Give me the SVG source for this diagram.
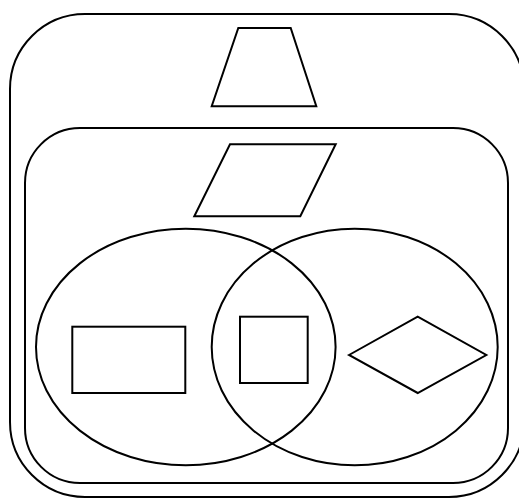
<svg xmlns="http://www.w3.org/2000/svg" width="519" height="498" viewBox="0 0 519 498">
<style>
.s{fill:#fff;stroke:#000;stroke-width:2;}
.n{fill:none;stroke:#000;stroke-width:2;}
</style>
<rect width="519" height="498" fill="#fff"/>
<g id="outer"><rect class="s" x="10" y="14" width="514" height="483" rx="75" ry="75"/></g>
<g id="trapezoid"><polygon class="s" points="238.3,28 290.7,28 316.3,106.3 211.7,106.3"/></g>
<g id="inner"><rect class="s" x="25" y="128" width="483" height="355" rx="55" ry="55"/></g>
<g id="parallelogram"><polygon class="s" points="230,144.3 335.7,144.3 300.3,216.3 194.3,216.3"/></g>
<g id="ellipseLeft"><ellipse class="n" cx="185.8" cy="347" rx="149.8" ry="118.3"/></g>
<g id="ellipseRight"><ellipse class="n" cx="354.7" cy="347" rx="143" ry="118.3"/></g>
<g id="rectangle"><rect class="n" x="72.3" y="326.7" width="113" height="66.3"/></g>
<g id="square"><rect class="n" x="240" y="316.7" width="67.7" height="66.3"/></g>
<g id="diamond"><polygon class="n" points="349,355 417.7,316.7 486.3,355 417.7,393"/></g>
<g id="connectors"></g>
</svg>
